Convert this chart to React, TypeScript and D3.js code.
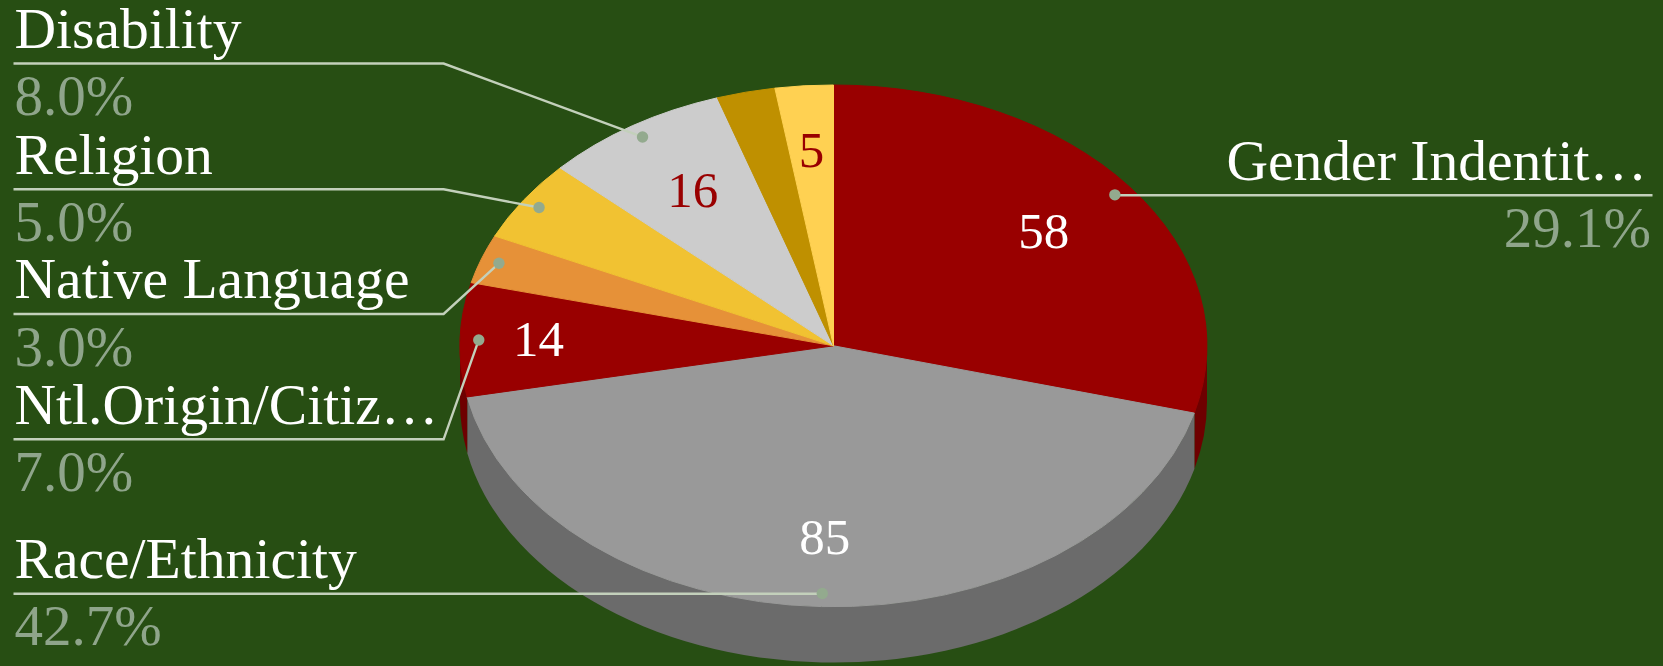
import { useEffect, useRef } from 'react'
import * as d3 from 'd3'

const W = 1663
const H = 666

// clockwise from 12 o'clock
const values = [58, 85, 14, 6, 10, 16, 5, 5]
const names = ['Gender Indentit…', 'Race/Ethnicity', 'Ntl.Origin/Citiz…', 'Native Language', 'Religion', 'Disability', '', '']
const percents = ['29.1%', '42.7%', '7.0%', '3.0%', '5.0%', '8.0%', '', '']
const valueLabels = ['58', '85', '14', '', '', '16', '', '5']
const colors = ['#990000', '#999999', '#990000', '#e69138', '#f1c232', '#cccccc', '#bf9000', '#ffd152']
const sideColors = ['#6e0000', '#6b6b6b', '#6e0000', '#a56828', '#ad8b24', '#939393', '#896800', '#b89c49']
const labelColors = ['#ffffff', '#ffffff', '#ffffff', '', '', '#990000', '', '#990000']

// layout only: label radius and callout rail per slice
const labelRadii = [0.71, 0.74, 0.79, 0, 0, 0.7, 0, 0.745]
const railY = [195.3, 593.7, 439.3, 314, 189.3, 63.5, 0, 0]

export default function App() {
  const svgRef = useRef<SVGSVGElement>(null)

  useEffect(() => {
    if (!svgRef.current) return
    const svg = d3.select(svgRef.current)
    svg.selectAll('*').remove()

    const cx = 833.5
    const cy = 345.8
    const rx = 373.5
    const ry = 260.8
    const depth = 56 / ry
    const leftText = 14.5
    const leftRail = 13.5
    const rightText = 1652.5
    const leftElbow = 443.6
    const font = '"Liberation Serif", serif'

    svg.append('rect').attr('width', W).attr('height', H).attr('fill', '#274e13')

    const arcs = d3.pie<number>().sort(null)(values)
    const arc = d3.arc<d3.PieArcDatum<number>>().innerRadius(0).outerRadius(1)
    const pt = (a: number, r: number): [number, number] => [
      cx + rx * r * Math.sin(a),
      cy - ry * r * Math.cos(a),
    ]

    // unit circle squashed into the tilted ellipse
    const pie = svg.append('g').attr('transform', `translate(${cx},${cy}) scale(${rx},${ry})`)

    // Side wall — only the front half shows
    arcs.forEach((d, i) => {
      const a0 = Math.max(d.startAngle, Math.PI / 2)
      const a1 = Math.min(d.endAngle, (3 * Math.PI) / 2)
      if (a1 <= a0) return
      const p = d3.path()
      p.arc(0, 0, 1, a0 - Math.PI / 2, a1 - Math.PI / 2)
      p.arc(0, depth, 1, a1 - Math.PI / 2, a0 - Math.PI / 2, true)
      p.closePath()
      pie.append('path').attr('d', p.toString()).attr('fill', sideColors[i])
    })

    // Top face — hairline stroke hides the seams between slices
    pie.selectAll('path.slice')
      .data(arcs)
      .join('path')
      .attr('class', 'slice')
      .attr('d', arc)
      .attr('fill', (_, i) => colors[i])
      .attr('stroke', (_, i) => colors[i])
      .attr('stroke-width', 1)
      .attr('vector-effect', 'non-scaling-stroke')

    // Value labels
    arcs.forEach((d, i) => {
      if (!valueLabels[i]) return
      const [x, y] = pt((d.startAngle + d.endAngle) / 2, labelRadii[i])
      svg.append('text')
        .attr('x', x).attr('y', y).attr('dy', '0.3em')
        .attr('text-anchor', 'middle')
        .attr('font-family', font).attr('font-size', 51)
        .attr('fill', labelColors[i])
        .text(valueLabels[i])
    })

    // Callouts
    arcs.forEach((d, i) => {
      if (!names[i]) return
      const [x, y] = pt((d.startAngle + d.endAngle) / 2, 0.95)
      const right = x > cx + 100
      const line = d3.line()
      const points: [number, number][] = right
        ? [[x, railY[i]], [rightText, railY[i]]]
        : [[x, y], [Math.abs(y - railY[i]) < 1 ? x : leftElbow, railY[i]], [leftRail, railY[i]]]
      svg.append('path')
        .attr('d', line(points))
        .attr('fill', 'none')
        .attr('stroke', '#c3d0bb').attr('stroke-width', 2.4)
      svg.append('circle')
        .attr('cx', x).attr('cy', y).attr('r', 5.7)
        .attr('fill', '#93aa8e')

      svg.append('text')
        .attr('x', right ? rightText - 5.5 : leftText).attr('y', railY[i] - 15.8)
        .attr('text-anchor', right ? 'end' : 'start')
        .attr('font-family', font).attr('font-size', 57.6)
        .attr('fill', '#ffffff')
        .text(names[i])
      svg.append('text')
        .attr('x', right ? rightText - 1.5 : leftText).attr('y', railY[i] + 51.7)
        .attr('text-anchor', right ? 'end' : 'start')
        .attr('font-family', font).attr('font-size', 57)
        .attr('fill', '#8fa58b')
        .text(percents[i])
    })
  }, [])

  return (
    <svg
      ref={svgRef}
      width={W}
      height={H}
      style={{ position: 'absolute', left: 0, top: 0, display: 'block' }}
    />
  )
}
